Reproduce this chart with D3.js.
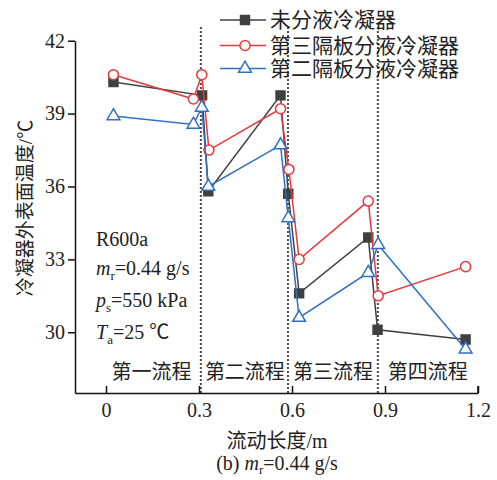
<!DOCTYPE html>
<html>
<head>
<meta charset="utf-8">
<script src="https://cdn.jsdelivr.net/npm/d3@7"></script>
<style>
  html, body { margin: 0; padding: 0; background: #fff; }
  svg { display: block; }
  text { font-family: "Liberation Serif", "Noto Sans CJK SC", serif; fill: #222; }
</style>
</head>
<body>
<svg id="chart" width="497" height="480"></svg>
<script>
// ---- data ----
const xTicks = [0, 0.3, 0.6, 0.9, 1.2];
const yTicks = [30, 33, 36, 39, 42];
const dividers = [0.306, 0.587, 0.877];
const stageLabels = ["第一流程", "第二流程", "第三流程", "第四流程"];
const stageCenters = [0.147, 0.448, 0.732, 1.038];
const seriesNames = ["未分液冷凝器", "第三隔板分液冷凝器", "第二隔板分液冷凝器"];

const blackX = [0.024, 0.31, 0.33, 0.563, 0.588, 0.623, 0.846, 0.876, 1.16];
const blackY = [40.3, 39.75, 35.8, 39.75, 35.7, 31.6, 33.9, 30.1, 29.7];

const redX = [0.024, 0.282, 0.309, 0.332, 0.563, 0.59, 0.623, 0.846, 0.878, 1.16];
const redY = [40.6, 39.6, 40.6, 37.5, 39.2, 36.7, 33.0, 35.4, 31.5, 32.7];

const blueX = [0.024, 0.282, 0.309, 0.33, 0.563, 0.588, 0.623, 0.846, 0.878, 1.16];
const blueY = [38.9, 38.55, 39.25, 36.0, 37.7, 34.7, 30.6, 32.45, 33.6, 29.3];

// ---- chart ----
const svg = d3.select("#chart");
const x = d3.scaleLinear().domain([-0.1, 1.2]).range([75, 478]);
const y = d3.scaleLinear().domain([27.5, 42]).range([393, 40.7]);

const series = [
  { name: seriesNames[0], xs: blackX, ys: blackY, color: "#404040", sym: d3.symbolSquare, size: 80, fill: "#404040" },
  { name: seriesNames[1], xs: redX, ys: redY, color: "#e8383d", sym: d3.symbolCircle, size: 80, fill: "#fff" },
  { name: seriesNames[2], xs: blueX, ys: blueY, color: "#2f6fc4", sym: d3.symbolTriangle, size: 70, fill: "#fff" }
];

// divider dotted lines
svg.append("g").selectAll("line").data(dividers).join("line")
  .attr("x1", d => x(d)).attr("x2", d => x(d))
  .attr("y1", y(42.55)).attr("y2", y(27.5))
  .attr("stroke", "#111").attr("stroke-width", 2)
  .attr("stroke-dasharray", "1.5,2.5");

// axes
const xAxis = d3.axisBottom(x).tickValues(xTicks).tickFormat(d3.format("")).tickSizeInner(-7).tickSizeOuter(0).tickPadding(10);
const gx = svg.append("g").attr("transform", `translate(0,${y(27.5)})`).call(xAxis);
gx.select(".domain").attr("stroke", "#111").attr("stroke-width", 1.5);
gx.selectAll(".tick line").attr("stroke", "#111").attr("stroke-width", 1.5);
gx.selectAll(".tick text").attr("font-size", 20).attr("font-family", "Liberation Serif").attr("fill", "#222");
// right end cap
svg.append("line").attr("x1", x(1.2)).attr("x2", x(1.2)).attr("y1", y(27.5)).attr("y2", y(27.5) - 7)
  .attr("stroke", "#111").attr("stroke-width", 1.5);

const yAxis = d3.axisLeft(y).tickValues(yTicks).tickSizeInner(7).tickSizeOuter(0).tickPadding(3);
const gy = svg.append("g").attr("transform", `translate(${x(-0.1)},0)`).call(yAxis);
gy.select(".domain").attr("stroke", "#111").attr("stroke-width", 1.5);
gy.selectAll(".tick line").attr("stroke", "#111").attr("stroke-width", 1.5);
gy.selectAll(".tick text").attr("font-size", 20).attr("font-family", "Liberation Serif").attr("fill", "#222");

// series
const line = d3.line().x(d => x(d[0])).y(d => y(d[1]));
series.forEach(s => {
  const pts = s.xs.map((v, i) => [v, s.ys[i]]);
  const g = svg.append("g");
  g.append("path").attr("d", line(pts)).attr("fill", "none")
    .attr("stroke", s.color).attr("stroke-width", 1.5);
  g.selectAll("path.m").data(pts).join("path").attr("class", "m")
    .attr("transform", d => `translate(${x(d[0])},${y(d[1])})`)
    .attr("d", d3.symbol().type(s.sym).size(s.size))
    .attr("fill", s.fill).attr("stroke", s.color).attr("stroke-width", 1.5);
});

// legend
const legY = [20, 45.5, 68.5];
series.forEach((s, i) => {
  const g = svg.append("g").attr("transform", `translate(0,${legY[i]})`);
  g.append("line").attr("x1", 220).attr("x2", 266).attr("stroke", s.color).attr("stroke-width", 1.5);
  g.append("path").attr("transform", "translate(245,0)")
    .attr("d", d3.symbol().type(s.sym).size(s.size))
    .attr("fill", s.fill).attr("stroke", s.color).attr("stroke-width", 1.5);
  g.append("text").attr("x", 270).attr("y", 7).attr("font-size", 21)
    .attr("font-family", "Noto Sans CJK SC").text(s.name);
});

// stage labels
svg.append("g").selectAll("text").data(stageLabels).join("text")
  .attr("x", (d, i) => x(stageCenters[i])).attr("y", 379)
  .attr("text-anchor", "middle").attr("font-size", 20)
  .attr("font-family", "Noto Sans CJK SC").text(d => d);

// annotations
const ann = svg.append("g").attr("font-size", 20);
ann.append("text").attr("x", 96).attr("y", 246).text("R600a");
function subText(yy, main, sub, rest) {
  const t = ann.append("text").attr("x", 96).attr("y", yy);
  t.append("tspan").attr("font-style", "italic").text(main);
  t.append("tspan").attr("font-size", 13).attr("dy", 5).text(sub);
  t.append("tspan").attr("dy", -5).text(rest);
}
subText(275, "m", "r", "=0.44 g/s");
subText(307, "p", "s", "=550 kPa");
subText(339, "T", "a", "=25 ℃");

// axis titles
svg.append("text").attr("x", 277).attr("y", 448).attr("text-anchor", "middle")
  .attr("font-size", 20).text("流动长度/m");
const cap = svg.append("text").attr("x", 277).attr("y", 470).attr("text-anchor", "middle").attr("font-size", 20);
cap.append("tspan").text("(b) ");
cap.append("tspan").attr("font-style", "italic").text("m");
cap.append("tspan").attr("font-size", 13).attr("dy", 4).text("r");
cap.append("tspan").attr("dy", -4).text("=0.44 g/s");

svg.append("text").attr("transform", "translate(32,208) rotate(-90)")
  .attr("text-anchor", "middle").attr("font-size", 19).text("冷凝器外表面温度/℃");
</script>
</body>
</html>
